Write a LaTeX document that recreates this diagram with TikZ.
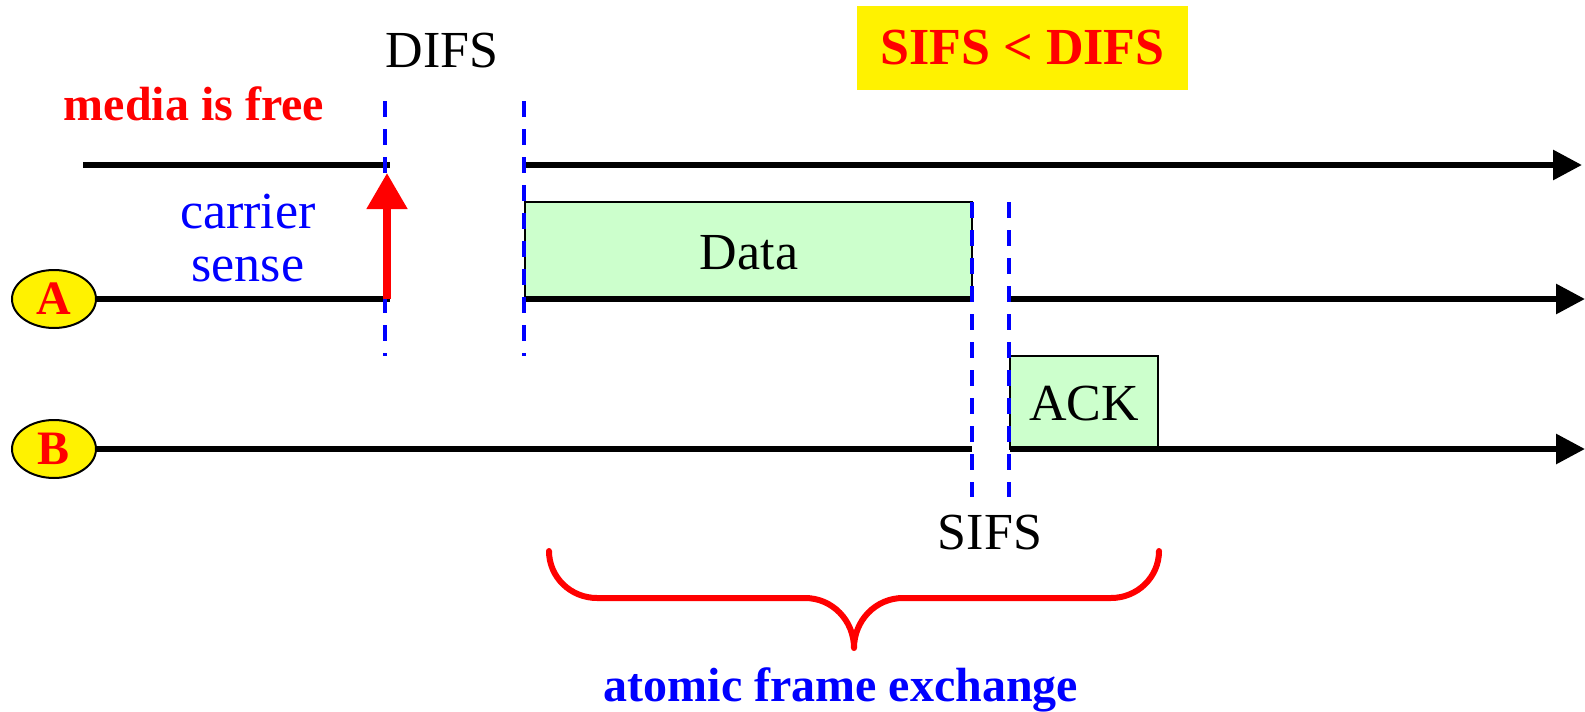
\documentclass[tikz,border=0pt]{standalone}
\usepackage{fontspec}
\setmainfont{Liberation Serif}
\usetikzlibrary{arrows.meta,shapes.geometric}
\definecolor{paleg}{HTML}{CCFFCC}
\begin{document}
\begin{tikzpicture}[x=0.5pt,y=-0.5pt,
  timeline/.style={line width=3pt,black},
  arr/.style={-{Triangle[length=14.5pt,width=14.5pt]}},
  dashline/.style={blue,line width=1.8pt,dash pattern=on 8pt off 6pt},
  frame/.style={draw=black,line width=0.9pt,fill=paleg,inner sep=0pt,outer sep=0pt},
  regtext/.style={font=\fontsize{26}{26.5}\selectfont,inner sep=0pt},
  boldtext/.style={font=\fontsize{24}{26}\selectfont\bfseries,inner sep=0pt},
  station/.style={ellipse,draw=black,line width=1pt,fill=yellow,minimum width=42pt,minimum height=29pt,inner sep=0pt,text=red,font=\fontsize{24}{26}\selectfont\bfseries},
  bracestyle/.style={red,line width=3pt,line cap=round,line join=round}]
\useasboundingbox (0,0) rectangle (1585,712);

% stations
\node[station] (A) at (54,299) {A};
\node[station] (B) at (54,449) {B};

% frames
\node[frame,minimum width=223.5pt,minimum height=48.5pt] (data) at (748.5,250.5) {};
\node[regtext] (datat) at (749,253) {Data};
\node[frame,minimum width=74pt,minimum height=46.5pt] (ack) at (1084,402.5) {};
\node[regtext] (ackt) at (1084,404) {ACK};

% coordinates
\coordinate (m0) at (83,165);
\coordinate (m1) at (390,165);
\coordinate (m2) at (525,165);
\coordinate (mE) at (1582,165);
\coordinate (a1) at (390,299);
\coordinate (a2) at (1010,299);
\coordinate (aE) at (1585,299);
\coordinate (b1) at (972,449);
\coordinate (bE) at (1585,449);
\coordinate (d1t) at (385,101);
\coordinate (d1b) at (385,356);
\coordinate (d2t) at (524,101);
\coordinate (d2b) at (524,356);
\coordinate (s1t) at (972,202);
\coordinate (s1b) at (972,497);
\coordinate (s2t) at (1009,202);
\coordinate (s2b) at (1009,497);
\coordinate (rb) at (387,299);
\coordinate (rt) at (387,173);

% timelines
\draw[timeline] (m0) -- (m1);
\draw[timeline,arr] (m2) -- (mE);
\draw[timeline] (A.east) -- (a1);
\draw[timeline] (data.south west) -- (data.south east);
\draw[timeline,arr] (a2) -- (aE);
\draw[timeline] (B.east) -- (b1);
\draw[timeline] (ack.south west) -- (ack.south east);
\draw[timeline,arr] (ack.south east) -- (bE);

% dashed markers
\draw[dashline] (d1t) -- (d1b);
\draw[dashline] (d2t) -- (d2b);
\draw[dashline] (s1t) -- (s1b);
\draw[dashline] (s2t) -- (s2b);

% carrier sense arrow
\draw[red,line width=4pt,-{Triangle[length=18pt,width=19.5pt]}] (rb) -- (rt);

% labels
\node[boldtext,text=red] (free) at (194,104) {media is free};
\node[regtext] (difs) at (442,51) {DIFS};
\node[regtext,text=blue,align=center] (cs) at (248,238) {carrier\\sense};
\node[regtext] (sifs) at (990,533) {SIFS};
\node[fill=yellow,minimum width=165.5pt,minimum height=42pt,inner sep=0pt,text=red,font=\fontsize{26}{28}\selectfont\bfseries] (rule) at (1022.5,48) {SIFS < DIFS};

% brace
\draw[bracestyle] (549,551) to[out=-90,in=180] (597,598) -- (805,598)
  to[out=0,in=90] (854,648) to[out=90,in=180] (903,598) -- (1111,598)
  to[out=0,in=-90] (1159,551);
\node[boldtext,text=blue] (atomic) at (841,690) {atomic frame exchange};
\end{tikzpicture}
\end{document}
